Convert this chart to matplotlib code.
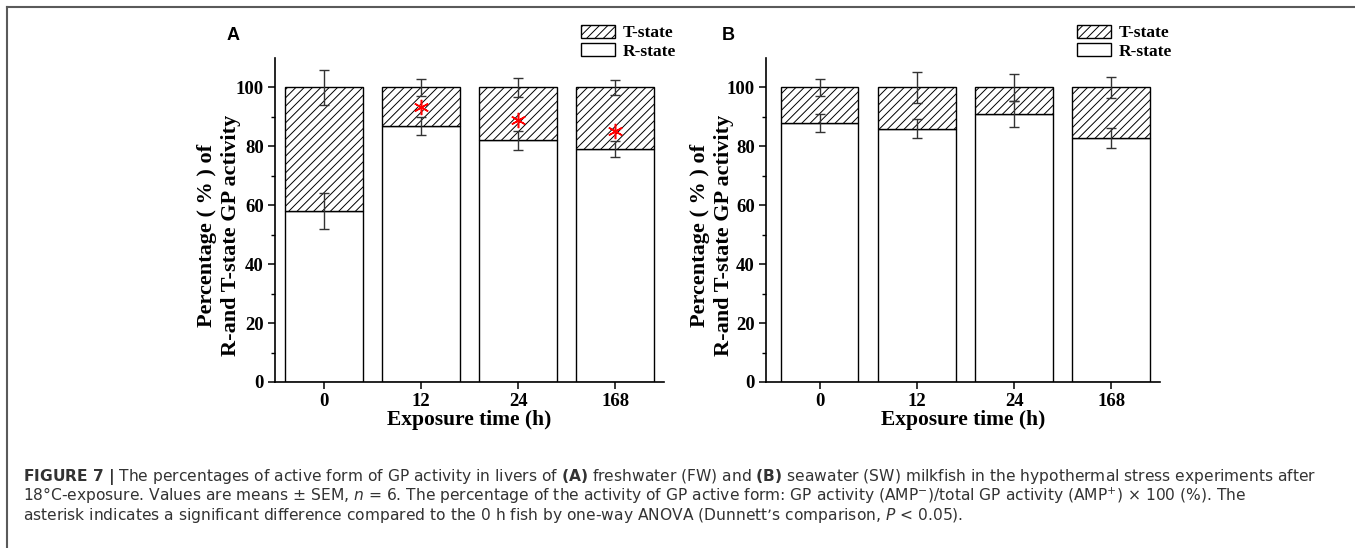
import numpy as np
import matplotlib.pyplot as plt
from matplotlib.patches import Patch
from matplotlib.lines import Line2D

# data
times = ['0', '12', '24', '168']

# panel A (freshwater)
r_a = [58, 87, 82, 79]
t_a = [42, 13, 18, 21]
r_err_a = [6, 3, 3.2, 2.7]
t_err_a = [6, 3, 3.1, 2.7]
star_x_a = [1, 2, 3]
star_y_a = [93.3, 88.9, 85.1]

# panel B (seawater)
r_b = [88, 86, 91, 83]
t_b = [12, 14, 9, 17]
r_err_b = [3, 3.2, 4.4, 3.4]
t_err_b = [3, 5.3, 4.5, 3.5]

W, H = 1355, 548
SERIF = 'Liberation Serif'

plt.rcParams['hatch.linewidth'] = 0.7
plt.rcParams['mathtext.fontset'] = 'dejavusans'


def px(x, y):
    """pixel (from top-left) -> figure fraction"""
    return x / W, 1 - y / H


def draw_panel(ax, r, t, r_err, t_err):
    x = np.arange(len(times))
    ax.bar(x, r, width=0.8, color='white', edgecolor='black', linewidth=1.0, zorder=2)
    ax.bar(x, t, bottom=r, width=0.8, color='white', edgecolor='black',
           linewidth=1.0, hatch='////', zorder=2)
    tops = np.array(r) + np.array(t)
    ax.errorbar(x, tops, yerr=t_err, fmt='none', ecolor='#333333',
                elinewidth=1.0, capsize=3.5, capthick=1.0, zorder=3)
    ax.errorbar(x, r, yerr=r_err, fmt='none', ecolor='#333333',
                elinewidth=1.0, capsize=3.5, capthick=1.0, zorder=3)

    ax.set_ylim(0, 110)
    ax.set_yticks([0, 20, 40, 60, 80, 100])
    ax.set_yticks(np.arange(10, 110, 20), minor=True)
    ax.set_xticks(x)
    ax.set_xticklabels(times)
    ax.spines['top'].set_visible(False)
    ax.spines['right'].set_visible(False)
    for s in ['left', 'bottom']:
        ax.spines[s].set_linewidth(1.2)
    ax.tick_params(which='major', direction='out', length=5, width=1.1, pad=3)
    ax.tick_params(which='minor', direction='out', length=3, width=1.0)
    ax.tick_params(axis='x', which='minor', bottom=False)
    for lab in ax.get_xticklabels() + ax.get_yticklabels():
        lab.set_fontfamily(SERIF)
        lab.set_fontweight('bold')
        lab.set_fontsize(13.5)
    ax.set_xlabel('Exposure time (h)', fontfamily=SERIF, fontweight='bold',
                  fontsize=15.5, labelpad=0)


fig = plt.figure(figsize=(W / 100, H / 100), dpi=100)

# panel A
ax_a = fig.add_axes([275 / W, 1 - 382 / H, 389 / W, 324 / H])
ax_a.set_xlim(-0.5, 3.5)
draw_panel(ax_a, r_a, t_a, r_err_a, t_err_a)
ax_a.plot(star_x_a, star_y_a, ls='none', marker=(6, 2, 0), color='red',
          ms=11, mew=1.1, zorder=4)

# panel B
ax_b = fig.add_axes([766 / W, 1 - 382 / H, 394 / W, 324 / H])
ax_b.set_xlim(-0.55, 3.5)
draw_panel(ax_b, r_b, t_b, r_err_b, t_err_b)

for xc, lab, lx, legx in [(219, 'A', 233, 581), (712, 'B', 728, 1077)]:
    fig.text(*px(xc, 235), 'Percentage ( % ) of\nR-and T-state GP activity',
             rotation=90, ha='center', va='center', fontfamily=SERIF,
             fontweight='bold', fontsize=16, linespacing=1.3)
    fig.text(*px(lx, 35), lab, ha='center', va='center', fontfamily='Liberation Sans',
             fontweight='bold', fontsize=13)
    handles = [Patch(facecolor='white', edgecolor='black', hatch='////', linewidth=1.0,
                     label='T-state'),
               Patch(facecolor='white', edgecolor='black', linewidth=1.0,
                     label='R-state')]
    fig.legend(handles=handles, loc='upper left', bbox_to_anchor=px(legx, 25),
               bbox_transform=fig.transFigure, frameon=False, borderpad=0,
               borderaxespad=0, handlelength=1.95, handleheight=0.75,
               handletextpad=0.45, labelspacing=0.1,
               prop={'family': SERIF, 'weight': 'bold', 'size': 12.5})

# frame around the figure panel (open on right and bottom)
fig.add_artist(Line2D([7.5 / W, 1.0], [1 - 6.5 / H, 1 - 6.5 / H],
                      transform=fig.transFigure, color='#5a5a5a', lw=1.5))
fig.add_artist(Line2D([7.5 / W, 7.5 / W], [0.0, 1 - 6.5 / H],
                      transform=fig.transFigure, color='#5a5a5a', lw=1.5))

# caption
cap = [
    r"$\mathbf{FIGURE\ 7\ |}$ The percentages of active form of GP activity in livers of "
    r"$\mathbf{(A)}$ freshwater (FW) and $\mathbf{(B)}$ seawater (SW) milkfish in the "
    r"hypothermal stress experiments after",
    r"18°C-exposure. Values are means ± SEM, $n$ = 6. The percentage of the activity of GP "
    r"active form: GP activity (AMP$^{-}$)/total GP activity (AMP$^{+}$) × 100 (%). The",
    r"asterisk indicates a significant difference compared to the 0 h fish by one-way "
    r"ANOVA (Dunnett’s comparison, $P$ < 0.05).",
]
for i, line in enumerate(cap):
    fig.text(*px(23, 481 + 19.5 * i), line, ha='left', va='baseline',
             fontfamily='DejaVu Sans', fontsize=11.15, color='#333333')

fig.savefig('out.png', dpi=100)
